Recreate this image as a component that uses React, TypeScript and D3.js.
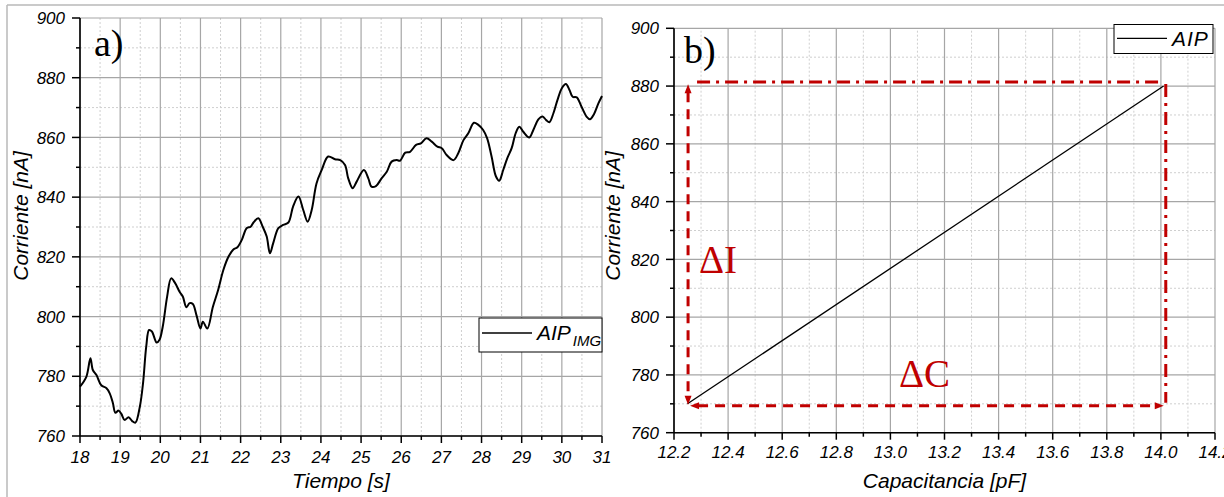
import React from 'react';
import * as d3 from 'd3';

// ---------- Data ----------
const time = [18.0, 18.16, 18.26, 18.32, 18.41, 18.53, 18.66, 18.74, 18.82, 18.88, 18.96, 19.03, 19.11, 19.21, 19.30, 19.38, 19.49, 19.57, 19.65, 19.72, 19.79, 19.91, 19.98, 20.06, 20.17, 20.27, 20.37, 20.48, 20.56, 20.65, 20.73, 20.81, 20.90, 21.0, 21.06, 21.17, 21.31, 21.44, 21.57, 21.70, 21.82, 21.92, 22.03, 22.15, 22.25, 22.32, 22.44, 22.55, 22.65, 22.73, 22.81, 22.94, 23.06, 23.19, 23.31, 23.44, 23.56, 23.67, 23.77, 23.89, 24.02, 24.18, 24.35, 24.48, 24.60, 24.68, 24.79, 24.89, 25.07, 25.18, 25.26, 25.37, 25.51, 25.64, 25.76, 25.89, 25.97, 26.10, 26.22, 26.37, 26.49, 26.63, 26.76, 26.90, 27.01, 27.13, 27.30, 27.42, 27.55, 27.67, 27.81, 27.92, 28.04, 28.14, 28.25, 28.36, 28.44, 28.54, 28.64, 28.75, 28.85, 28.94, 29.04, 29.19, 29.29, 29.42, 29.52, 29.61, 29.69, 29.79, 29.89, 30.00, 30.10, 30.19, 30.27, 30.37, 30.49, 30.62, 30.70, 30.80, 30.91, 31.0];
const current = [776.5, 779.9, 786.0, 782.1, 780.4, 777, 776, 774.3, 771, 767.8, 768.5, 767.4, 765.4, 766.3, 765, 764.5, 769.8, 777.7, 790, 795.5, 795, 791.3, 792.2, 796.6, 806.7, 812.8, 811.2, 808.3, 806.7, 803.1, 804.5, 804.2, 800.5, 796, 798.3, 796, 803.3, 808.9, 815.6, 820.1, 822.5, 823.2, 825.7, 829.6, 830.1, 831.5, 832.9, 830.1, 826.8, 821.2, 824.5, 829.6, 830.7, 831.5, 837, 840.2, 835.7, 831.8, 835.7, 844.6, 849.1, 853.6, 852.7, 852.4, 850.8, 846.3, 843, 845.2, 849.1, 846.3, 843.5, 843.7, 846.3, 848.5, 851.9, 852.4, 852.2, 854.9, 855.2, 857.5, 858, 859.7, 858.6, 856.9, 856.4, 854.1, 852.4, 854.7, 859.1, 861.4, 864.9, 864.2, 862.5, 859.7, 853.6, 846.9, 845.5, 849.1, 853, 856.4, 861.4, 863.6, 861.9, 860, 862.5, 866.1, 867, 865.8, 865.1, 868.1, 872.5, 876.5, 877.9, 875.9, 873.6, 873.4, 870.3, 866.9, 866.1, 867.8, 871.4, 873.9];

const capacitance = [12.25, 14.01];
const currentFit = [770, 880];

const timeTicks = [18, 19, 20, 21, 22, 23, 24, 25, 26, 27, 28, 29, 30, 31];
const capTicks = [12.2, 12.4, 12.6, 12.8, 13.0, 13.2, 13.4, 13.6, 13.8, 14.0, 14.2];
const currentTicks = [760, 780, 800, 820, 840, 860, 880, 900];

// annotation levels (data units) for panel b
const deltaLeftC = 12.252;
const deltaRightC = 14.018;
const deltaTopI = 881.4;
const deltaBottomI = 769.3;
const deltaArrowTopI = 880.6;
const deltaArrowBottomI = 770.0;

const SANS = '"Liberation Sans", Arial, Helvetica, sans-serif';
const SERIF = '"Liberation Serif", "Times New Roman", Times, serif';
const RED = '#c00000';
const MAJOR = '#a6a6a6';
const MINOR = '#cfcfcf';

function midpoints(ticks: number[]) {
  const r: number[] = [];
  for (let i = 0; i < ticks.length - 1; i++) r.push((ticks[i] + ticks[i + 1]) / 2);
  return r;
}

type PanelProps = {
  x: d3.ScaleLinear<number, number>;
  y: d3.ScaleLinear<number, number>;
  xTicks: number[];
  yTicks: number[];
  xFmt: (v: number) => string;
  xLabel: string;
  yLabel: string;
  xLabelBase: number;
  xTickBase: number;
  yLabelX: number;
};

function Panel(p: PanelProps) {
  const { x, y, xTicks, yTicks } = p;
  const [x0, x1] = x.range();
  const [y0, y1] = y.range(); // y0 bottom, y1 top
  const xMinor = midpoints(xTicks);
  const yMinor = midpoints(yTicks);
  return (
    <g>
      {/* minor grid */}
      {xMinor.map((v) => (
        <line key={'xm' + v} x1={x(v)} x2={x(v)} y1={y0} y2={y1} stroke={MINOR} strokeWidth={1} strokeDasharray="2 2" />
      ))}
      {yMinor.map((v) => (
        <line key={'ym' + v} x1={x0} x2={x1} y1={y(v)} y2={y(v)} stroke={MINOR} strokeWidth={1} strokeDasharray="2 2" />
      ))}
      {/* major grid */}
      {xTicks.map((v) => (
        <line key={'xg' + v} x1={x(v)} x2={x(v)} y1={y0} y2={y1} stroke={MAJOR} strokeWidth={1.2} />
      ))}
      {yTicks.map((v) => (
        <line key={'yg' + v} x1={x0} x2={x1} y1={y(v)} y2={y(v)} stroke={MAJOR} strokeWidth={1.2} />
      ))}
      {/* axes */}
      <line x1={x0} x2={x1} y1={y0} y2={y0} stroke="#000" strokeWidth={1.6} />
      <line x1={x0} x2={x0} y1={y0} y2={y1} stroke="#000" strokeWidth={1.6} />
      {xTicks.map((v) => (
        <line key={'xt' + v} x1={x(v)} x2={x(v)} y1={y0} y2={y0 + 7} stroke="#000" strokeWidth={1.5} />
      ))}
      {xMinor.map((v) => (
        <line key={'xmt' + v} x1={x(v)} x2={x(v)} y1={y0} y2={y0 + 4} stroke="#000" strokeWidth={1.5} />
      ))}
      {yTicks.map((v) => (
        <line key={'yt' + v} x1={x0 - 8} x2={x0} y1={y(v)} y2={y(v)} stroke="#000" strokeWidth={1.5} />
      ))}
      {yMinor.map((v) => (
        <line key={'ymt' + v} x1={x0 - 4} x2={x0} y1={y(v)} y2={y(v)} stroke="#000" strokeWidth={1.5} />
      ))}
      {/* tick labels */}
      {xTicks.map((v) => (
        <text key={'xl' + v} x={x(v)} y={p.xTickBase} textAnchor="middle" fontFamily={SANS} fontStyle="italic" fontSize={17} fill="#000">
          {p.xFmt(v)}
        </text>
      ))}
      {yTicks.map((v) => (
        <text key={'yl' + v} x={x0 - 15} y={y(v)} dy="0.36em" textAnchor="end" fontFamily={SANS} fontStyle="italic" fontSize={17} fill="#000">
          {v}
        </text>
      ))}
      {/* axis titles */}
      <text x={(x0 + x1) / 2} y={p.xLabelBase} textAnchor="middle" fontFamily={SANS} fontStyle="italic" fontSize={21} fill="#000">
        {p.xLabel}
      </text>
      <text transform={`translate(${p.yLabelX},216) rotate(-90)`} textAnchor="middle" fontFamily={SANS} fontStyle="italic" fontSize={21} fill="#000">
        {p.yLabel}
      </text>
    </g>
  );
}

function arrowHead(tipX: number, tipY: number, dir: 'up' | 'down' | 'left' | 'right', len = 9, half = 3.5) {
  let pts: [number, number][];
  if (dir === 'up') pts = [[tipX, tipY], [tipX - half, tipY + len], [tipX + half, tipY + len]];
  else if (dir === 'down') pts = [[tipX, tipY], [tipX - half, tipY - len], [tipX + half, tipY - len]];
  else if (dir === 'left') pts = [[tipX, tipY], [tipX + len, tipY - half], [tipX + len, tipY + half]];
  else pts = [[tipX, tipY], [tipX - len, tipY - half], [tipX - len, tipY + half]];
  return pts.map((q) => q.join(',')).join(' ');
}

export default function App() {
  const xA = d3.scaleLinear().domain([18, 31]).range([80, 602]);
  const yA = d3.scaleLinear().domain([760, 900]).range([436, 18]);
  const xB = d3.scaleLinear().domain([12.2, 14.2]).range([674, 1215]);
  const yB = d3.scaleLinear().domain([760, 900]).range([432.7, 28.3]);

  const pts: [number, number][] = time.map((t, i) => [t, current[i]]);
  const lineA = d3
    .line<[number, number]>()
    .x((d) => xA(d[0]))
    .y((d) => yA(d[1]))
    .curve(d3.curveCatmullRom.alpha(0.5))(pts) as string;

  const ptsB: [number, number][] = capacitance.map((c, i) => [c, currentFit[i]]);
  const lineB = d3
    .line<[number, number]>()
    .x((d) => xB(d[0]))
    .y((d) => yB(d[1]))(ptsB) as string;

  const lx = xB(deltaLeftC);
  const rx = xB(deltaRightC);
  const ty = yB(deltaTopI);
  const by = yB(deltaBottomI);

  return (
    <svg width={1224} height={497} style={{ position: 'absolute', left: 0, top: 0, background: '#fff' }}>
      <rect x={0} y={0} width={1224} height={497} fill="#fff" />
      {/* outer frame */}
      <line x1={7} x2={1224} y1={5} y2={5} stroke="#b8b8b8" strokeWidth={1.5} />
      <line x1={7} x2={7} y1={5} y2={497} stroke="#b8b8b8" strokeWidth={1.5} />

      {/* Panel a */}
      <Panel
        x={xA}
        y={yA}
        xTicks={timeTicks}
        yTicks={currentTicks}
        xFmt={(v) => String(v)}
        xLabel="Tiempo [s]"
        yLabel="Corriente [nA]"
        xLabelBase={488}
        xTickBase={463}
        yLabelX={28}
      />
      <path d={lineA} fill="none" stroke="#000" strokeWidth={2} strokeLinejoin="round" />
      <text x={94} y={56} fontFamily={SERIF} fontSize={38} fill="#000">a)</text>
      {/* legend a */}
      <rect x={479} y={318} width={123} height={34} fill="#fff" stroke="#000" strokeWidth={1} />
      <line x1={482} x2={532} y1={333} y2={333} stroke="#000" strokeWidth={1.6} />
      <text x={537} y={340} fontFamily={SANS} fontStyle="italic" fontSize={21} fill="#000">
        AIP
        <tspan fontSize={15} dy={6} dx={2}>IMG</tspan>
      </text>

      {/* Panel b */}
      <Panel
        x={xB}
        y={yB}
        xTicks={capTicks}
        yTicks={currentTicks}
        xFmt={(v) => v.toFixed(1)}
        xLabel="Capacitancia [pF]"
        yLabel="Corriente [nA]"
        xLabelBase={488}
        xTickBase={458}
        yLabelX={620}
      />
      <path d={lineB} fill="none" stroke="#000" strokeWidth={1.3} />
      <text x={684} y={63} fontFamily={SERIF} fontSize={38} fill="#000">b)</text>
      {/* legend b */}
      <rect x={1114} y={24.5} width={99} height={29} fill="#fff" stroke="#000" strokeWidth={1} />
      <line x1={1117} x2={1167} y1={38.3} y2={38.3} stroke="#000" strokeWidth={1.3} />
      <text x={1172} y={45.5} fontFamily={SANS} fontStyle="italic" fontSize={21} letterSpacing={1} fill="#000">AIP</text>

      {/* delta annotations */}
      <g stroke={RED} strokeWidth={3} fill="none">
        {/* top dash-dot */}
        <line x1={lx + 9} x2={rx - 2} y1={ty} y2={ty} strokeDasharray="13 6 3 6" />
        {/* right dash-dot */}
        <line x1={rx} x2={rx} y1={ty + 2} y2={by - 3} strokeDasharray="13 6 3 6" />
        {/* left dashed vertical */}
        <line x1={lx} x2={lx} y1={yB(deltaArrowTopI) + 8} y2={yB(deltaArrowBottomI) - 8} strokeDasharray="10 7" />
        {/* bottom dashed horizontal */}
        <line x1={lx + 10} x2={rx - 10} y1={by} y2={by} strokeDasharray="10 7" />
      </g>
      <g fill={RED} stroke="none">
        <polygon points={arrowHead(lx, yB(deltaArrowTopI), 'up')} />
        <polygon points={arrowHead(lx, yB(deltaArrowBottomI) + 1, 'down')} />
        <polygon points={arrowHead(lx + 2, by, 'left')} />
        <polygon points={arrowHead(rx - 2, by, 'right')} />
      </g>
      <text x={699} y={273} fontFamily={SERIF} fontSize={39} fill={RED}>ΔI</text>
      <text x={899} y={387} fontFamily={SERIF} fontSize={39} fill={RED}>ΔC</text>
    </svg>
  );
}
